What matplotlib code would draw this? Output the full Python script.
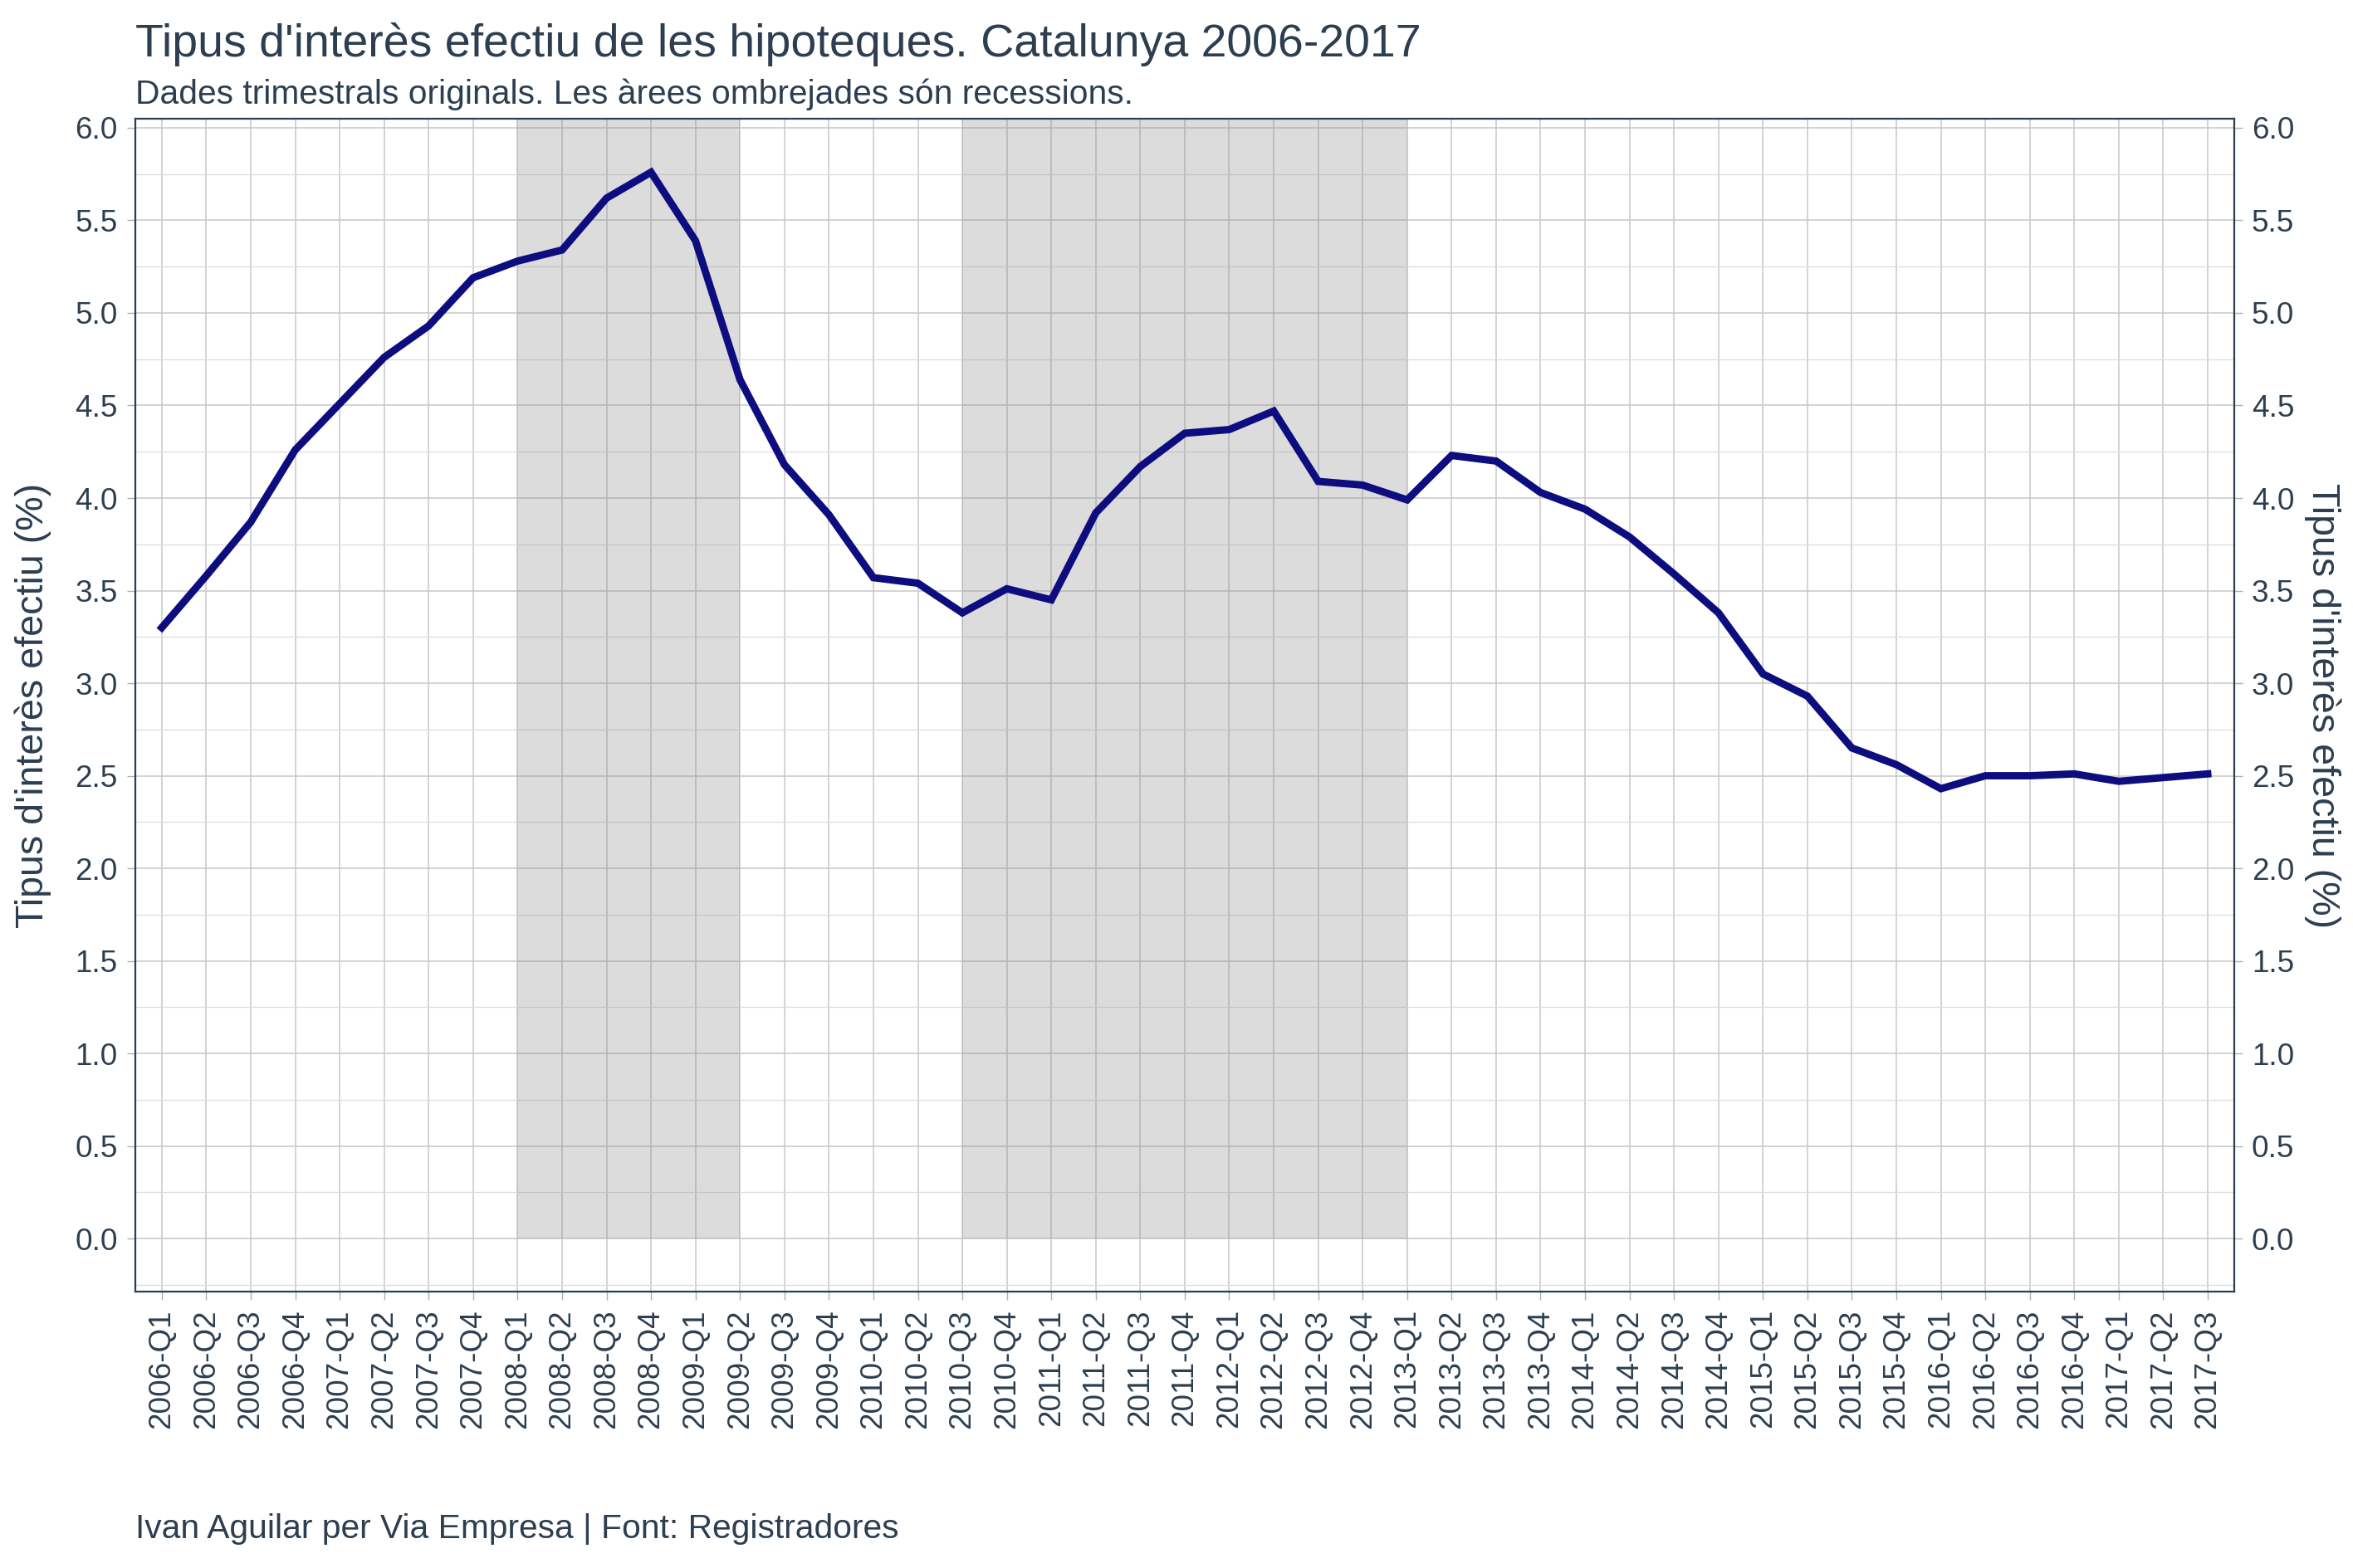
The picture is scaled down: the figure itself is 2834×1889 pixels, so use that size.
import matplotlib
matplotlib.use("Agg")
import matplotlib.pyplot as plt
from matplotlib.ticker import MultipleLocator

plt.rcParams['font.family'] = ['Liberation Sans', 'DejaVu Sans']

years = [2006, 2007, 2008, 2009, 2010, 2011, 2012, 2013, 2014, 2015, 2016, 2017]
quarters = [f"{y}-Q{q}" for y in years for q in (1, 2, 3, 4)][:47]

rate = [3.30, 3.58, 3.87, 4.26, 4.51, 4.76, 4.93, 5.19,
        5.28, 5.34, 5.62, 5.76, 5.39, 4.64, 4.18, 3.91,
        3.57, 3.54, 3.38, 3.51, 3.45, 3.92, 4.17, 4.35,
        4.37, 4.47, 4.09, 4.07, 3.99, 4.23, 4.20, 4.03,
        3.94, 3.79, 3.59, 3.38, 3.05, 2.93, 2.65, 2.56,
        2.43, 2.50, 2.50, 2.51, 2.47, 2.49, 2.51]

rec_start = ["2008-Q1", "2010-Q3"]
rec_end = ["2009-Q2", "2013-Q1"]

title = "Tipus d'interès efectiu de les hipoteques. Catalunya 2006-2017"
subtitle = "Dades trimestrals originals. Les àrees ombrejades són recessions."
caption = "Ivan Aguilar per Via Empresa | Font: Registradores"
ylabel = "Tipus d'interès efectiu (%)"

TXT = '#2C3E50'
DPI = 200
fig = plt.figure(figsize=(2834 / DPI, 1889 / DPI), dpi=DPI)
ax = fig.add_axes([0.0574, 0.1761, 0.9496 - 0.0574, 0.9244 - 0.1761])

x = list(range(len(quarters)))
ymin, ymax = -0.288, 6.05

for s, e in zip(rec_start, rec_end):
    xs, xe = quarters.index(s), quarters.index(e)
    ax.fill_between([xs, xe], 0, ymax + 1, color='#808080', alpha=0.27,
                    linewidth=0, zorder=2)

ax.plot(x, rate, color='#0d0d80', linewidth=3.2, zorder=3,
        solid_joinstyle='miter')

ax.set_xlim(-0.6, len(quarters) - 1 + 0.6)
ax.set_ylim(ymin, ymax)
ax.set_xticks(x)
ax.set_xticklabels(quarters, rotation=90, fontsize=13.3, color=TXT)
ax.yaxis.set_major_locator(MultipleLocator(0.5))
ax.yaxis.set_minor_locator(MultipleLocator(0.25))
ax.yaxis.set_major_formatter(matplotlib.ticker.FormatStrFormatter('%.1f'))
ax.grid(True, which='major', color='#c8c8c8', linewidth=0.55, zorder=1)
ax.grid(True, which='minor', axis='y', color='#dcdcdc', linewidth=0.45, zorder=1)
ax.set_axisbelow(True)

ax.tick_params(axis='both', which='major', length=3.5, width=0.5, color='#b0b0b0',
               labelcolor=TXT, labelsize=13.3, pad=4)
ax.tick_params(axis='y', which='minor', length=0)
ax.tick_params(axis='y', right=True, labelright=True)
for sp in ax.spines.values():
    sp.set_color(TXT)
    sp.set_linewidth(0.8)

fig.text(0.01403, 0.5502, ylabel, fontsize=16.8, color=TXT, rotation=90,
         ha='center', va='center')
fig.text(0.9872, 0.5502, ylabel, fontsize=16.8, color=TXT, rotation=270,
         ha='center', va='center')

fig.text(0.0574, 0.9715, title, fontsize=20, color=TXT, ha='left', va='center')
fig.text(0.0574, 0.9400, subtitle, fontsize=14.7, color=TXT, ha='left', va='center')
fig.text(0.0574, 0.0248, caption, fontsize=14.7, color=TXT, ha='left', va='center')

fig.savefig("out.png", dpi=DPI, facecolor='white')
